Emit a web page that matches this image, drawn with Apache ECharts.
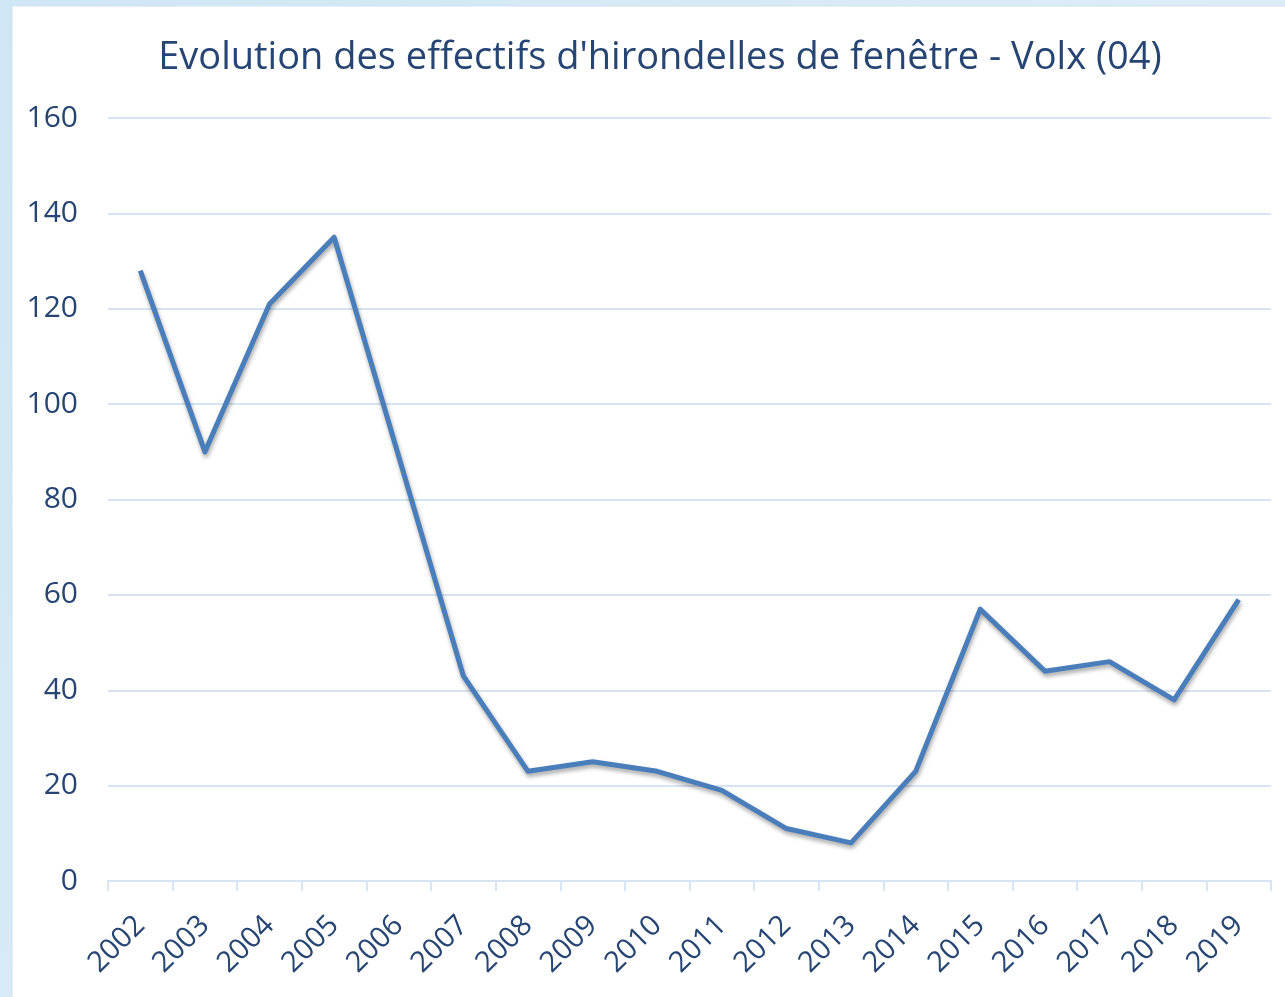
<!DOCTYPE html>
<html>
<head>
<meta charset="utf-8">
<script src="https://cdn.jsdelivr.net/npm/echarts@6/dist/echarts.min.js"></script>
<style>
  html, body { margin: 0; padding: 0; background: #ffffff; }
  #chart { width: 1285px; height: 997px; }
</style>
</head>
<body>
<div id="chart"></div>
<script>
// Annual counts of house martins (Delichon urbicum) in Volx
const years = ['2002','2003','2004','2005','2006','2007','2008','2009','2010',
               '2011','2012','2013','2014','2015','2016','2017','2018','2019'];
const counts = [128, 90, 121, 135, 89, 43, 23, 25, 23, 19, 11, 8, 23, 57, 44, 46, 38, 59];
const yTicks = { min: 0, max: 160, step: 20 };

const textColor = '#264573';
const gridColor = '#d6e4f3';
const font = '"Open Sans", "Noto Sans", sans-serif';

const chart = echarts.init(document.getElementById('chart'), null, { renderer: 'canvas' });

chart.setOption({
  animation: false,
  backgroundColor: '#ffffff',
  graphic: [
    // light blue frame along the top and left edges
    {
      type: 'rect', z: -10, silent: true,
      shape: { x: 0, y: 0, width: 1285, height: 997 },
      style: {
        fill: new echarts.graphic.LinearGradient(0, 0, 1, 1, [
          { offset: 0, color: '#cfe6f4' },
          { offset: 1, color: '#e4f1fa' }
        ])
      }
    },
    {
      type: 'rect', z: -9, silent: true,
      shape: { x: 12, y: 6, width: 1285, height: 997 },
      style: { fill: '#ffffff', stroke: '#cfe0ef', lineWidth: 1 }
    }
  ],
  title: {
    text: "Evolution des effectifs d'hirondelles de fenêtre - Volx (04)",
    left: 655,
    top: 34,
    textAlign: 'center',
    textStyle: {
      color: textColor,
      fontFamily: font,
      fontWeight: 'normal',
      fontSize: 38
    }
  },
  grid: {
    left: 108,
    right: 14,
    top: 118,
    bottom: 116,
    containLabel: false
  },
  xAxis: {
    type: 'category',
    data: years,
    boundaryGap: true,
    axisLine: { show: true, lineStyle: { color: gridColor, width: 2 } },
    axisTick: { show: true, length: 10, alignWithLabel: false, lineStyle: { color: gridColor, width: 2 } },
    axisLabel: {
      rotate: 45,
      margin: 40,
      color: textColor,
      fontFamily: font,
      fontSize: 29,
      interval: 0
    },
    splitLine: { show: false }
  },
  yAxis: {
    type: 'value',
    min: yTicks.min,
    max: yTicks.max,
    interval: yTicks.step,
    axisLine: { show: false },
    axisTick: { show: false },
    axisLabel: {
      color: textColor,
      fontFamily: font,
      fontSize: 30,
      margin: 30
    },
    splitLine: { show: true, lineStyle: { color: gridColor, width: 2 } }
  },
  series: [{
    type: 'line',
    data: counts,
    symbol: 'none',
    lineStyle: {
      color: '#4a7ebb',
      width: 5,
      join: 'round',
      shadowColor: 'rgba(0,0,0,0.35)',
      shadowBlur: 4,
      shadowOffsetX: 1,
      shadowOffsetY: 3
    }
  }]
});
</script>
</body>
</html>
